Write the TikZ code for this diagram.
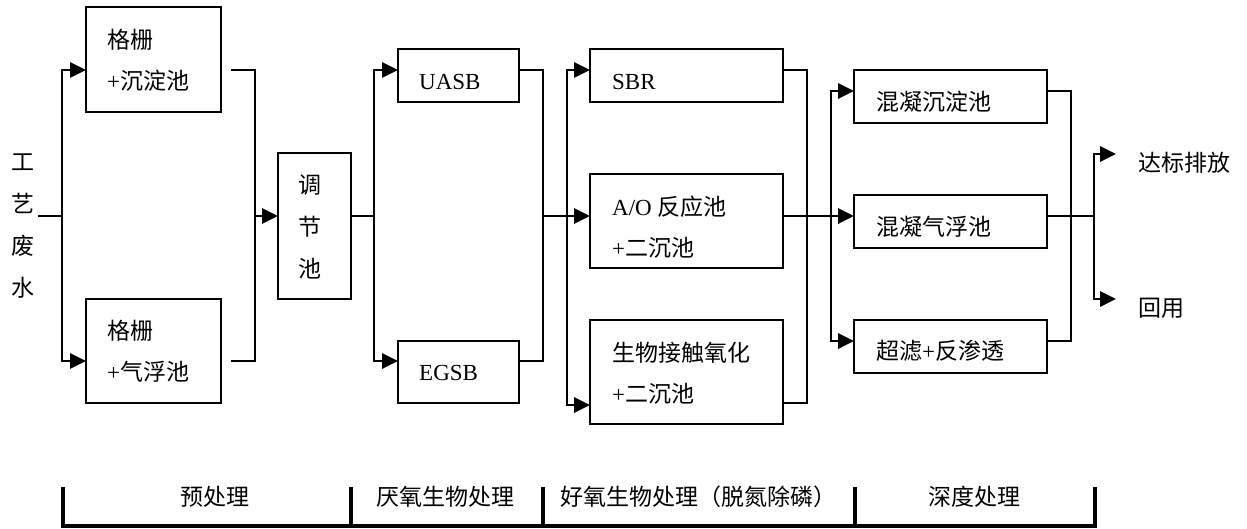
\documentclass[tikz,border=0pt]{standalone}
\usepackage{fontspec}
\setmainfont{Liberation Serif}
\newfontfamily\cjk{Noto Sans CJK SC}
\usetikzlibrary{arrows.meta,calc}
\newcommand\zz[1]{{\cjk #1}}
\begin{document}
\begin{tikzpicture}[x=1pt,y=-1pt,
  box/.style={draw, line width=1.8pt, inner sep=0pt, outer sep=0pt, anchor=north west},
  txt/.style={inner sep=0pt, font=\fontsize{23}{41}\selectfont},
  lbl/.style={txt, anchor=base west},
  two/.style={txt, anchor=west, align=left},
  stack/.style={inner sep=0pt, align=center, font=\fontsize{23}{42}\selectfont},
  ln/.style={line width=1.8pt},
  arr/.style={ln, -{Triangle[length=16pt,width=15.5pt]}},
  brk/.style={line width=3.2pt}
]
\useasboundingbox (0,0) rectangle (1247,528);

% boxes
\node[box, minimum width=135pt, minimum height=105pt] (b1) at (86,7) {};
\node[box, minimum width=135pt, minimum height=104pt] (b2) at (86,299) {};
\node[box, minimum width=73pt, minimum height=146pt] (tj) at (278,153) {};
\node[box, minimum width=121pt, minimum height=53pt] (uasb) at (398,49) {};
\node[box, minimum width=121pt, minimum height=62pt] (egsb) at (398,341) {};
\node[box, minimum width=193pt, minimum height=53pt] (sbr) at (590,49) {};
\node[box, minimum width=193pt, minimum height=94pt] (ao) at (590,174) {};
\node[box, minimum width=193pt, minimum height=104pt] (bio) at (590,320) {};
\node[box, minimum width=193pt, minimum height=53pt] (h1) at (854,70) {};
\node[box, minimum width=193pt, minimum height=53pt] (h2) at (854,195) {};
\node[box, minimum width=193pt, minimum height=53pt] (h3) at (854,320) {};

% texts
\node[stack] (src) at (22.7,226.5) {\zz{工}\\\zz{艺}\\\zz{废}\\\zz{水}};
\node[two] (b1t) at (107,60.5) {\zz{格栅}\\+\zz{沉淀池}};
\node[two] (b2t) at (107,351.5) {\zz{格栅}\\+\zz{气浮池}};
\node[stack] (tjt) at (310,226.5) {\zz{调}\\\zz{节}\\\zz{池}};
\node[lbl] (uasbt) at (419,89) {UASB};
\node[lbl] (egsbt) at (419,380) {EGSB};
\node[lbl] (sbrt) at (612,89) {SBR};
\node[two] (aot) at (612,227.5) {A/O \zz{反应池}\\+\zz{二沉池}};
\node[two] (biot) at (612,373.5) {\zz{生物接触氧化}\\+\zz{二沉池}};
\node[lbl] (h1t) at (876,110.5) {\zz{混凝沉淀池}};
\node[lbl] (h2t) at (876,235.5) {\zz{混凝气浮池}};
\node[lbl] (h3t) at (876,359.5) {\zz{超滤}+\zz{反渗透}};
\node[lbl] (o1) at (1138,171.5) {\zz{达标排放}};
\node[lbl] (o2) at (1138,316.5) {\zz{回用}};

% junction points
\coordinate (j1) at (62,216);
\coordinate (j2) at (255,216);
\coordinate (j3) at (374,216);
\coordinate (j4) at (543,216);
\coordinate (j5) at (567,216);
\coordinate (j6) at (807,216);
\coordinate (j7) at (831,216);
\coordinate (j8) at (1071,216);
\coordinate (j9) at (1094,216);

% stage 1
\draw[ln] ($(src.east |- j1)+(4,0)$) -- (j1);
\draw[arr] (j1) |- (b1.west |- 0,70);
\draw[arr] (j1) |- (b2.west |- 0,361);
% stage 2
\draw[ln] ($(b1.east |- 0,70)+(10,0)$) -| (j2);
\draw[ln] ($(b2.east |- 0,361)+(10,0)$) -| (j2);
\draw[arr] (j2) -- (tj.west |- j2);
% stage 3
\draw[ln] (tj.east |- j3) -- (j3);
\draw[arr] (j3) |- (uasb.west |- 0,70);
\draw[arr] (j3) |- (egsb.west |- 0,361);
% stage 4
\draw[ln] (uasb.east |- 0,70) -| (j4);
\draw[ln] (egsb.east |- 0,361) -| (j4);
\draw[ln] (j4) -- (j5);
\draw[arr] (j5) |- (sbr.west |- 0,70);
\draw[arr] (j5) -- (ao.west |- j5);
\draw[arr] (j5) |- (bio.west |- 0,405);
% stage 5
\draw[ln] (sbr.east |- 0,70) -| (j6);
\draw[ln] (bio.east |- 0,403) -| (j6);
\draw[ln] (ao.east |- j6) -- (j7);
\draw[arr] (j7) |- (h1.west |- 0,91);
\draw[arr] (j7) -- (h2.west |- j7);
\draw[arr] (j7) |- (h3.west |- 0,341);
% stage 6
\draw[ln] (h1.east |- 0,91) -| (j8);
\draw[ln] (h3.east |- 0,341) -| (j8);
\draw[ln] (h2.east |- j8) -- (j9);
\draw[arr] (j9) |- ($(o1.west |- 0,154)+(-22,0)$);
\draw[arr] (j9) |- ($(o2.west |- 0,299)+(-22,0)$);

% bottom stage bracket
\draw[brk] (63,487) -- (63,526) -- (1095,526) -- (1095,487);
\draw[brk] (351,487) -- (351,526);
\draw[brk] (543,487) -- (543,526);
\draw[brk] (855,487) -- (855,526);
\node[txt, anchor=base] (s1) at (215,505.5) {\zz{预处理}};
\node[txt, anchor=base] (s2) at (445,505.5) {\zz{厌氧生物处理}};
\node[txt, anchor=base] (s3) at (698,505.5) {\zz{好氧生物处理（脱氮除磷）}};
\node[txt, anchor=base] (s4) at (974,505.5) {\zz{深度处理}};
\end{tikzpicture}
\end{document}
